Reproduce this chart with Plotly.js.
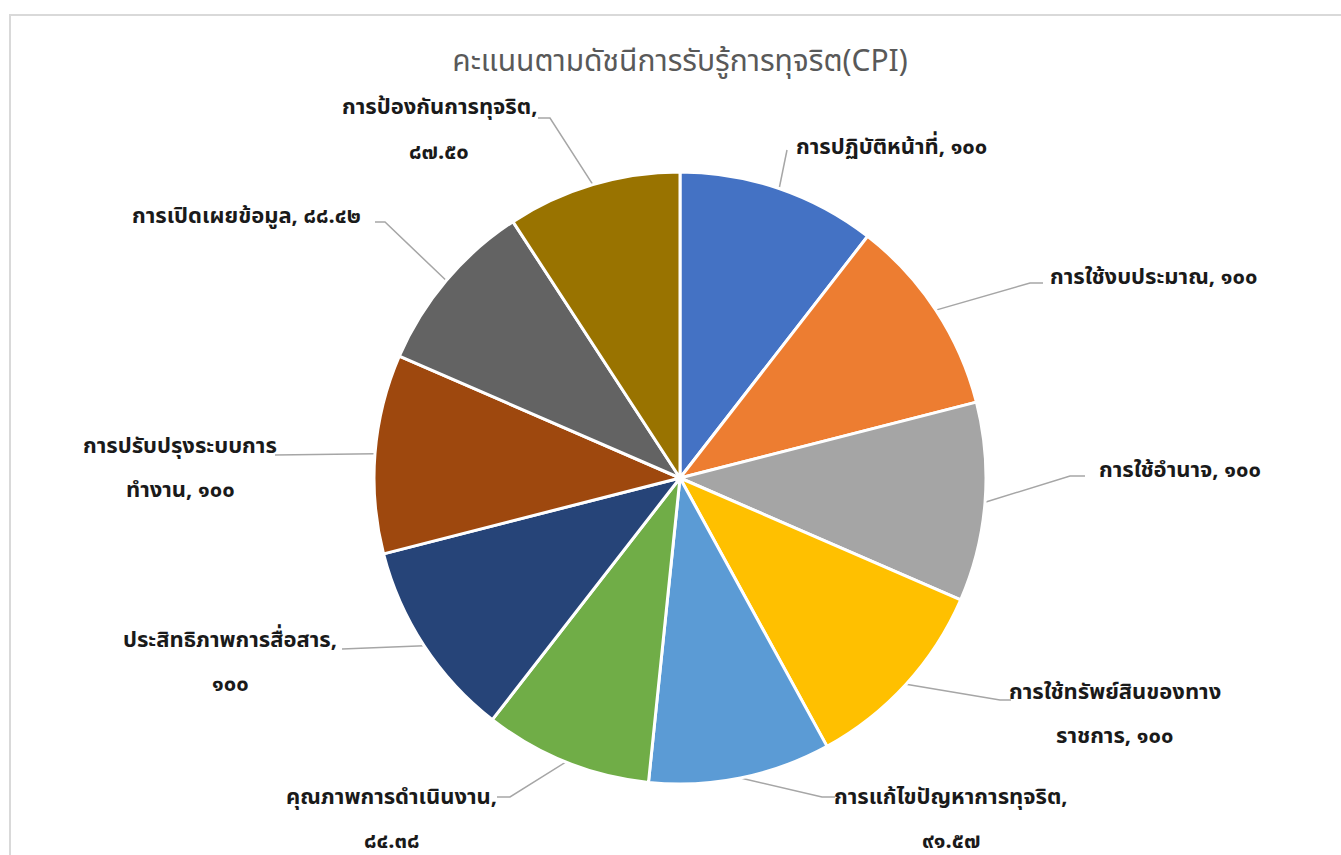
<!DOCTYPE html>
<html>
<head>
<meta charset="utf-8">
<script src="https://cdn.plot.ly/plotly-3.0.1.min.js"></script>
<style>html,body{margin:0;padding:0;background:#fff;}#chart{width:1341px;height:855px;}</style>
</head>
<body>
<div id="chart"></div>
<script>
// ---- data ----
const categories = [
  "การปฏิบัติหน้าที่", "การใช้งบประมาณ", "การใช้อำนาจ", "การใช้ทรัพย์สินของทางราชการ",
  "การแก้ไขปัญหาการทุจริต", "คุณภาพการดำเนินงาน", "ประสิทธิภาพการสื่อสาร",
  "การปรับปรุงระบบการทำงาน", "การเปิดเผยข้อมูล", "การป้องกันการทุจริต"
];
const scores = [100, 100, 100, 100, 91.57, 84.38, 100, 100, 88.42, 87.50];
const scoreLabels = ["๑๐๐", "๑๐๐", "๑๐๐", "๑๐๐", "๙๑.๕๗", "๘๔.๓๘", "๑๐๐", "๑๐๐", "๘๘.๔๒", "๘๗.๕๐"];
// label text split into lines (as wrapped in the chart)
const labelLines = [
  ["การปฏิบัติหน้าที่, ๑๐๐"],
  ["การใช้งบประมาณ, ๑๐๐"],
  ["การใช้อำนาจ, ๑๐๐"],
  ["การใช้ทรัพย์สินของทาง", "ราชการ, ๑๐๐"],
  ["การแก้ไขปัญหาการทุจริต,", "๙๑.๕๗"],
  ["คุณภาพการดำเนินงาน,", "๘๔.๓๘"],
  ["ประสิทธิภาพการสื่อสาร,", "๑๐๐"],
  ["การปรับปรุงระบบการ", "ทำงาน, ๑๐๐"],
  ["การเปิดเผยข้อมูล, ๘๘.๔๒"],
  ["การป้องกันการทุจริต,", "๘๗.๕๐"]
];
const titleText = "คะแนนตามดัชนีการรับรู้การทุจริต(CPI)";

// ---- styles / layout ----
const colors = ["#4472C4", "#ED7D31", "#A5A5A5", "#FFC000", "#5B9BD5", "#70AD47", "#264478", "#9E480E", "#636363", "#997300"];
const W = 1341, H = 855;
const CX = 680, CY = 478, R = 306;
const thaiFont = "Leelawadee UI, Tahoma, 'Noto Sans Thai', Loma, Garuda, 'DejaVu Sans', sans-serif";
// label placement (pixel centers of first line) and leader-line elbow points
const labelPos = [
  [891, 148], [1153, 277], [1180, 470], [1115, 692], [951, 797],
  [391, 797], [230, 640], [180, 446], [246, 217], [439, 108]
];
const leaderPts = [
  [[787, 150]],
  [[1030, 283], [1043, 283]],
  [[1070, 476], [1085, 476]],
  [[1000, 700], [1011, 700]],
  [[822, 797], [835, 797]],
  [[510, 797], [497, 797]],
  [[342, 649]],
  [[275, 455]],
  [[385, 222], [375, 222]],
  [[550, 118], [538, 118]]
];
const lineGap = 44;

const px = x => x / W;
const py = y => 1 - y / H;

const total = scores.reduce((a, b) => a + b, 0);
let cum = 0;
const shapes = [];
const annotations = [];
scores.forEach((v, i) => {
  const mid = (cum + v / 2) / total * 2 * Math.PI;
  cum += v;
  const ex = CX + R * Math.sin(mid), ey = CY - R * Math.cos(mid);
  let path = `M ${px(ex)} ${py(ey)}`;
  leaderPts[i].forEach(p => { path += ` L ${px(p[0])} ${py(p[1])}`; });
  shapes.push({type: 'path', xref: 'paper', yref: 'paper', path: path,
    line: {color: '#A6A6A6', width: 1.5}, layer: 'below'});
  labelLines[i].forEach((t, k) => {
    annotations.push({
      text: t, xref: 'paper', yref: 'paper', showarrow: false,
      x: px(labelPos[i][0]), y: py(labelPos[i][1] + k * lineGap),
      xanchor: 'center', yanchor: 'middle',
      font: {family: thaiFont, size: 22, color: '#1a1a1a', weight: 'bold'}
    });
  });
});

// chart frame
shapes.push({type: 'rect', xref: 'paper', yref: 'paper',
  x0: px(10), x1: 1.02, y0: -0.02, y1: py(15),
  line: {color: '#D9D9D9', width: 2}, layer: 'below'});

const trace = {
  type: 'pie',
  labels: categories,
  values: scores,
  sort: false,
  direction: 'clockwise',
  rotation: 0,
  textinfo: 'none',
  hoverinfo: 'label+value',
  marker: {colors: colors, line: {color: '#FFFFFF', width: 3}},
  domain: {x: [px(CX - R), px(CX + R)], y: [py(CY + R), py(CY - R)]},
  showlegend: false
};

const layout = {
  width: W, height: H,
  margin: {l: 0, r: 0, t: 0, b: 0},
  paper_bgcolor: '#FFFFFF',
  title: {text: titleText, x: px(680), xanchor: 'center', y: py(60), yanchor: 'middle',
    font: {family: thaiFont, size: 30, color: '#595959'}},
  shapes: shapes,
  annotations: annotations,
  showlegend: false
};

Plotly.newPlot('chart', [trace], layout, {displayModeBar: false, staticPlot: true});
</script>
</body>
</html>
